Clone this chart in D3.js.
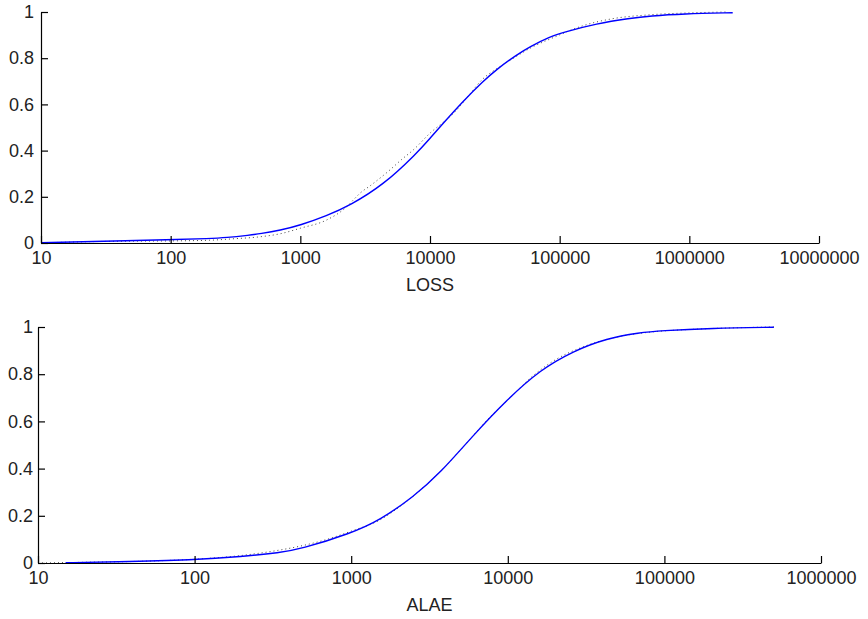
<!DOCTYPE html>
<html>
<head>
<meta charset="utf-8">
<script src="https://cdn.jsdelivr.net/npm/d3@7"></script>
<style>
  body { margin: 0; background: #fff; }
  svg { display: block; font-family: "Liberation Sans", Arial, Helvetica, sans-serif; }
  .axis text { font-size: 18px; fill: #222; }
  .axis path, .axis line { stroke: #000; stroke-width: 1.2; }
  .label { font-size: 18px; fill: #222; }
</style>
</head>
<body>
<svg width="868" height="619"></svg>
<script>
// LOSS panel
const lossTicks = [10, 100, 1000, 10000, 100000, 1000000, 10000000];
const lossFitX = [10, 30, 100, 200, 268, 405, 490, 700, 1000, 1600, 2400, 4365, 7890, 10000, 12500, 18070, 25700, 32660, 46600, 59000, 84100, 106700, 192800, 348600, 498000, 895000, 2160000];
const lossFitY = [0.001, 0.008, 0.014, 0.019, 0.023, 0.034, 0.040, 0.055, 0.077, 0.118, 0.162, 0.251, 0.388, 0.453, 0.515, 0.615, 0.700, 0.752, 0.815, 0.850, 0.893, 0.912, 0.950, 0.973, 0.983, 0.992, 0.997];
const lossEmpX = [10, 20, 50, 100, 200, 300, 490, 700, 1000, 1600, 2280, 2600, 2880, 3500, 4900, 6000, 7430, 10300, 12500, 15100, 20000, 25000, 35000, 44000, 60000, 90000, 150000, 250000, 500000, 1000000, 2000000];
const lossEmpY = [0.0, 0.005, 0.008, 0.009, 0.012, 0.018, 0.027, 0.040, 0.064, 0.100, 0.157, 0.190, 0.215, 0.250, 0.316, 0.360, 0.403, 0.482, 0.520, 0.560, 0.640, 0.705, 0.765, 0.800, 0.845, 0.890, 0.940, 0.970, 0.988, 0.996, 1.0];

// ALAE panel
const alaeTicks = [10, 100, 1000, 10000, 100000, 1000000];
const alaeFitX = [15, 30, 100, 200, 351, 471, 1000, 1530, 2500, 3690, 6030, 9840, 16070, 26200, 42800, 69800, 93800, 200000, 500000];
const alaeFitY = [0.001, 0.004, 0.013, 0.027, 0.044, 0.058, 0.126, 0.182, 0.281, 0.380, 0.542, 0.691, 0.818, 0.898, 0.952, 0.976, 0.984, 0.995, 0.999];
const alaeEmpX = [10, 20, 50, 100, 200, 350, 500, 700, 1000, 1500, 2200, 3000, 4000, 5000, 6500, 8000, 10000, 14000, 20000, 30000, 50000, 80000, 150000, 300000, 500000];
const alaeEmpY = [0.0, 0.003, 0.008, 0.016, 0.032, 0.055, 0.075, 0.100, 0.135, 0.180, 0.255, 0.330, 0.410, 0.480, 0.565, 0.630, 0.690, 0.785, 0.860, 0.915, 0.958, 0.978, 0.990, 0.997, 1.0];

const yTicks = [0, 0.2, 0.4, 0.6, 0.8, 1];

const svg = d3.select("svg");

function drawPanel(cfg) {
  const x = d3.scaleLog().domain([cfg.ticks[0], cfg.ticks[cfg.ticks.length - 1]]).range([cfg.left, cfg.right]);
  const y = d3.scaleLinear().domain([0, 1]).range([cfg.bottom, cfg.top]);
  const g = svg.append("g");

  // Empirical (dotted)
  const emp = cfg.empX.map(function (d, i) { return [d, cfg.empY[i]]; });
  g.append("path")
    .datum(emp)
    .attr("fill", "none")
    .attr("stroke", "#444")
    .attr("stroke-width", 1)
    .attr("stroke-dasharray", "1,3")
    .attr("d", d3.line().curve(d3.curveMonotoneX)
      .x(function (d) { return x(d[0]); })
      .y(function (d) { return y(d[1]); }));

  // Fitted curve
  const fit = cfg.fitX.map(function (d, i) { return [d, cfg.fitY[i]]; });
  g.append("path")
    .datum(fit)
    .attr("fill", "none")
    .attr("stroke", "#0000ff")
    .attr("stroke-width", 1.4)
    .attr("d", d3.line().curve(d3.curveBasis)
      .x(function (d) { return x(d[0]); })
      .y(function (d) { return y(d[1]); }));

  // Axes
  g.append("g")
    .attr("class", "axis")
    .attr("transform", "translate(0," + cfg.bottom + ")")
    .call(d3.axisBottom(x).tickValues(cfg.ticks).tickFormat(d3.format("d"))
      .tickSizeInner(-7).tickSizeOuter(0).tickPadding(8));

  g.append("g")
    .attr("class", "axis")
    .attr("transform", "translate(" + cfg.left + ",0)")
    .call(d3.axisLeft(y).tickValues(yTicks).tickFormat(d3.format("~g"))
      .tickSizeInner(-7).tickSizeOuter(0).tickPadding(cfg.yPad));

  g.append("text")
    .attr("class", "label")
    .attr("x", (cfg.left + cfg.right) / 2)
    .attr("y", cfg.bottom + 48)
    .attr("text-anchor", "middle")
    .text(cfg.title);
}

drawPanel({ ticks: lossTicks, fitX: lossFitX, fitY: lossFitY, empX: lossEmpX, empY: lossEmpY,
  left: 41, right: 819, top: 12, bottom: 243, yPad: 7, title: "LOSS" });
drawPanel({ ticks: alaeTicks, fitX: alaeFitX, fitY: alaeFitY, empX: alaeEmpX, empY: alaeEmpY,
  left: 38, right: 821, top: 327, bottom: 563, yPad: 5, title: "ALAE" });
</script>
</body>
</html>
